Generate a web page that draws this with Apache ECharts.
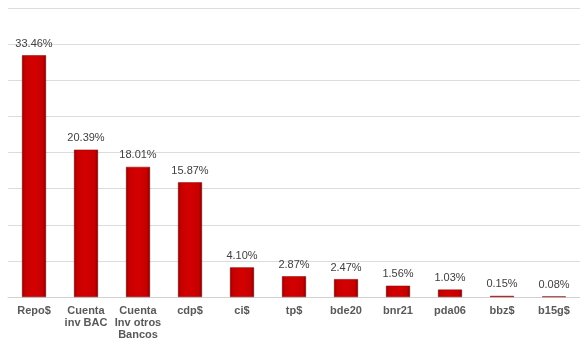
<!DOCTYPE html>
<html>
<head>
<meta charset="utf-8">
<script src="https://cdn.jsdelivr.net/npm/echarts@6/dist/echarts.min.js"></script>
<style>
  html, body { margin: 0; padding: 0; background: #fff; }
  #chart { width: 580px; height: 341px; }
</style>
</head>
<body>
<div id="chart"></div>
<script>
const categories = ['Repo$', 'Cuenta\ninv BAC', 'Cuenta\nInv otros\nBancos', 'cdp$', 'ci$', 'tp$', 'bde20', 'bnr21', 'pda06', 'bbz$', 'b15g$'];
const shares = [33.46, 20.39, 18.01, 15.87, 4.10, 2.87, 2.47, 1.56, 1.03, 0.15, 0.08];

const myChart = echarts.init(document.getElementById('chart'));
myChart.setOption({
  animation: false,
  grid: { left: 8, right: -11, top: 8, bottom: 44, containLabel: false },
  xAxis: {
    type: 'category',
    data: categories,
    axisTick: { show: false },
    axisLine: { lineStyle: { color: '#d0d0d0', width: 1 } },
    axisLabel: {
      interval: 0,
      margin: 8,
      color: '#595959',
      fontFamily: 'Liberation Sans, Arial, sans-serif',
      fontSize: 11,
      fontWeight: 'bold',
      lineHeight: 12
    }
  },
  yAxis: {
    type: 'value',
    min: 0,
    max: 40,
    interval: 5,
    axisLabel: { show: false },
    axisLine: { show: false },
    axisTick: { show: false },
    splitLine: { lineStyle: { color: '#dcdcdc', width: 1 } }
  },
  series: [{
    type: 'bar',
    data: shares,
    barWidth: 24,
    itemStyle: {
      color: new echarts.graphic.LinearGradient(0, 0, 1, 0, [
        { offset: 0, color: '#8a0000' },
        { offset: 0.12, color: '#c80000' },
        { offset: 0.5, color: '#d40000' },
        { offset: 0.88, color: '#c40000' },
        { offset: 1, color: '#7a0000' }
      ]),
      borderColor: '#8a0000',
      borderWidth: 0.5
    },
    label: {
      show: true,
      position: 'top',
      distance: 6,
      color: '#404040',
      fontFamily: 'Liberation Sans, Arial, sans-serif',
      fontSize: 11,
      formatter: p => p.value.toFixed(2) + '%'
    }
  }]
});
</script>
</body>
</html>
